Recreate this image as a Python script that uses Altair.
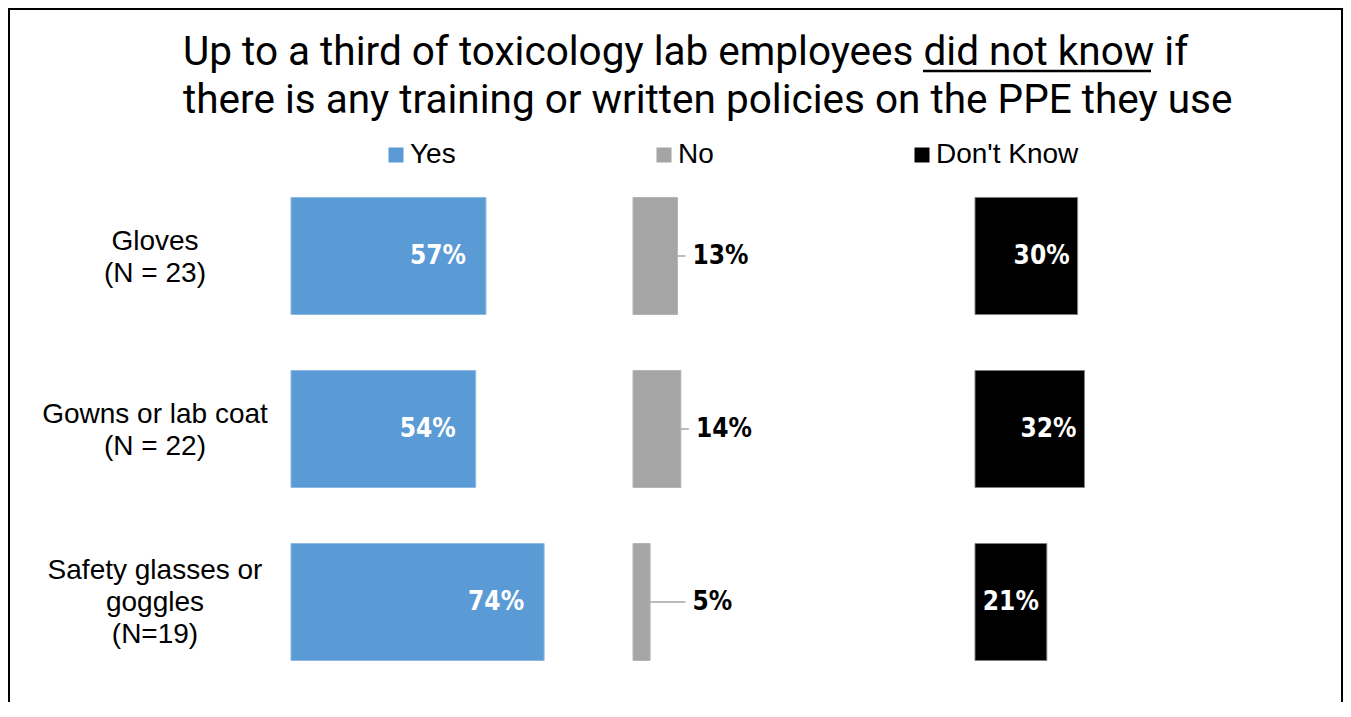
import altair as alt
import pandas as pd

CATEGORIES = ["Gloves", "Gowns or lab coat", "Safety glasses or goggles"]
CATEGORY_LABELS = ["Gloves\n(N = 23)", "Gowns or lab coat\n(N = 22)", "Safety glasses or\ngoggles\n(N=19)"]
SERIES = ["Yes", "No", "Don't Know"]
YES = [57, 54, 74]
NO = [13, 14, 5]
DONT_KNOW = [30, 32, 21]
COLORS = ["#5B9BD5", "#A5A5A5", "#000000"]
EDGE_COLORS = ["#8DB9E4", "#B5B5B5", "#7F7F7F"]
TITLE_LINES = ["Up to a third of toxicology lab employees did not know if",
               "there is any training or written policies on the PPE they use"]

rows = []
for s_i, (s, vals) in enumerate(zip(SERIES, [YES, NO, DONT_KNOW])):
    for c, lab, v in zip(CATEGORIES, CATEGORY_LABELS, vals):
        rows.append(dict(category=c, label=lab, series=s, value=v,
                         start=100 * s_i, end=100 * s_i + v, pct=f"{v}%"))
df = pd.DataFrame(rows)

W, H = 1335, 694
xscale = alt.Scale(domain=[-82.75, 307.6], nice=False, zero=False)
yscale = alt.Scale(domain=CATEGORIES, paddingInner=0.3237, paddingOuter=0.6676, align=0.8203)
X_END = alt.X("end:Q", scale=xscale, axis=None)
Y_CAT = alt.Y("category:N", scale=yscale, axis=None)

base = alt.Chart(df)

bars = base.mark_bar(strokeWidth=1).encode(
    x=alt.X("start:Q", scale=xscale, axis=None),
    x2="end:Q",
    y=Y_CAT,
    color=alt.Color("series:N", scale=alt.Scale(domain=SERIES, range=COLORS), title=None,
                    legend=alt.Legend(orient="none", legendX=374, legendY=133, direction="horizontal",
                                      symbolType="square", symbolSize=225, symbolStrokeWidth=0,
                                      labelFontSize=28, labelFont="Liberation Sans", labelColor="#000000",
                                      columnPadding=194, labelOffset=0, padding=0)),
    stroke=alt.Stroke("series:N", scale=alt.Scale(domain=SERIES, range=EDGE_COLORS), legend=None),
)

lab_base = base.transform_filter(alt.datum.series == "Yes").transform_calculate(
    nlines="length(split(datum.label, '\\n'))"
)
LINE_H = 32
cat_labels_2 = lab_base.transform_filter(alt.datum.nlines == 2).mark_text(
    align="center", baseline="middle", lineBreak="\n", fontSize=28, lineHeight=LINE_H,
    font="Liberation Sans", color="#000000", dy=-LINE_H / 2 + 2
).encode(x=alt.value(147), y=Y_CAT, text="label:N")
cat_labels_3 = lab_base.transform_filter(alt.datum.nlines == 3).mark_text(
    align="center", baseline="middle", lineBreak="\n", fontSize=28, lineHeight=LINE_H,
    font="Liberation Sans", color="#000000", dy=-LINE_H + 1
).encode(x=alt.value(147), y=Y_CAT, text="label:N")

label_font = "Liberation Sans Narrow, DejaVu Sans Condensed, sans-serif"
LBL = 26

yes_labels = base.transform_filter(alt.datum.series == "Yes").mark_text(
    align="right", baseline="middle", dx=-20, fontSize=LBL, fontWeight="bold", font=label_font, color="white"
).encode(x=X_END, y=Y_CAT, text="pct:N")

no_base = base.transform_filter(alt.datum.series == "No").transform_calculate(
    lx="datum.start + max(datum.value, 13)"
)
no_rules = no_base.mark_rule(color="#A6A6A6", strokeWidth=1.5, x2Offset=8).encode(
    x=X_END, x2="lx:Q", y=Y_CAT
)
no_labels = no_base.mark_text(
    align="left", baseline="middle", dx=15, fontSize=LBL, fontWeight="bold", font=label_font, color="black"
).encode(x=alt.X("lx:Q", scale=xscale, axis=None), y=Y_CAT, text="pct:N")

dk_labels = base.transform_filter(alt.datum.series == "Don't Know").mark_text(
    align="right", baseline="middle", dx=-8, fontSize=LBL, fontWeight="bold", font=label_font, color="white"
).encode(x=X_END, y=Y_CAT, text="pct:N")

one = alt.Chart(pd.DataFrame({"k": [0]}))
title = one.mark_text(text=TITLE_LINES, align="left", baseline="alphabetic", fontSize=40.5, lineHeight=48,
                      font="Roboto", color="black").encode(x=alt.value(175), y=alt.value(57))
underline = one.mark_rule(color="black", strokeWidth=2.5).encode(
    x=alt.value(915), x2=alt.value(1143), y=alt.value(63))

frame_left = one.mark_rule(color="black", strokeWidth=2).encode(x=alt.value(1), y=alt.value(0), y2=alt.value(H))
frame_right = one.mark_rule(color="black", strokeWidth=2).encode(x=alt.value(W - 1), y=alt.value(0), y2=alt.value(H))
frame_top = one.mark_rule(color="black", strokeWidth=2).encode(x=alt.value(0), x2=alt.value(W), y=alt.value(1))

chart = alt.layer(bars, cat_labels_2, cat_labels_3, yes_labels, no_rules, no_labels, dk_labels, title,
                  underline, frame_left, frame_right, frame_top).properties(
    width=W, height=H, padding=0, autosize="none"
).configure_view(strokeWidth=0)

chart.save("out.html", embed_options={"renderer": "svg", "actions": False})
